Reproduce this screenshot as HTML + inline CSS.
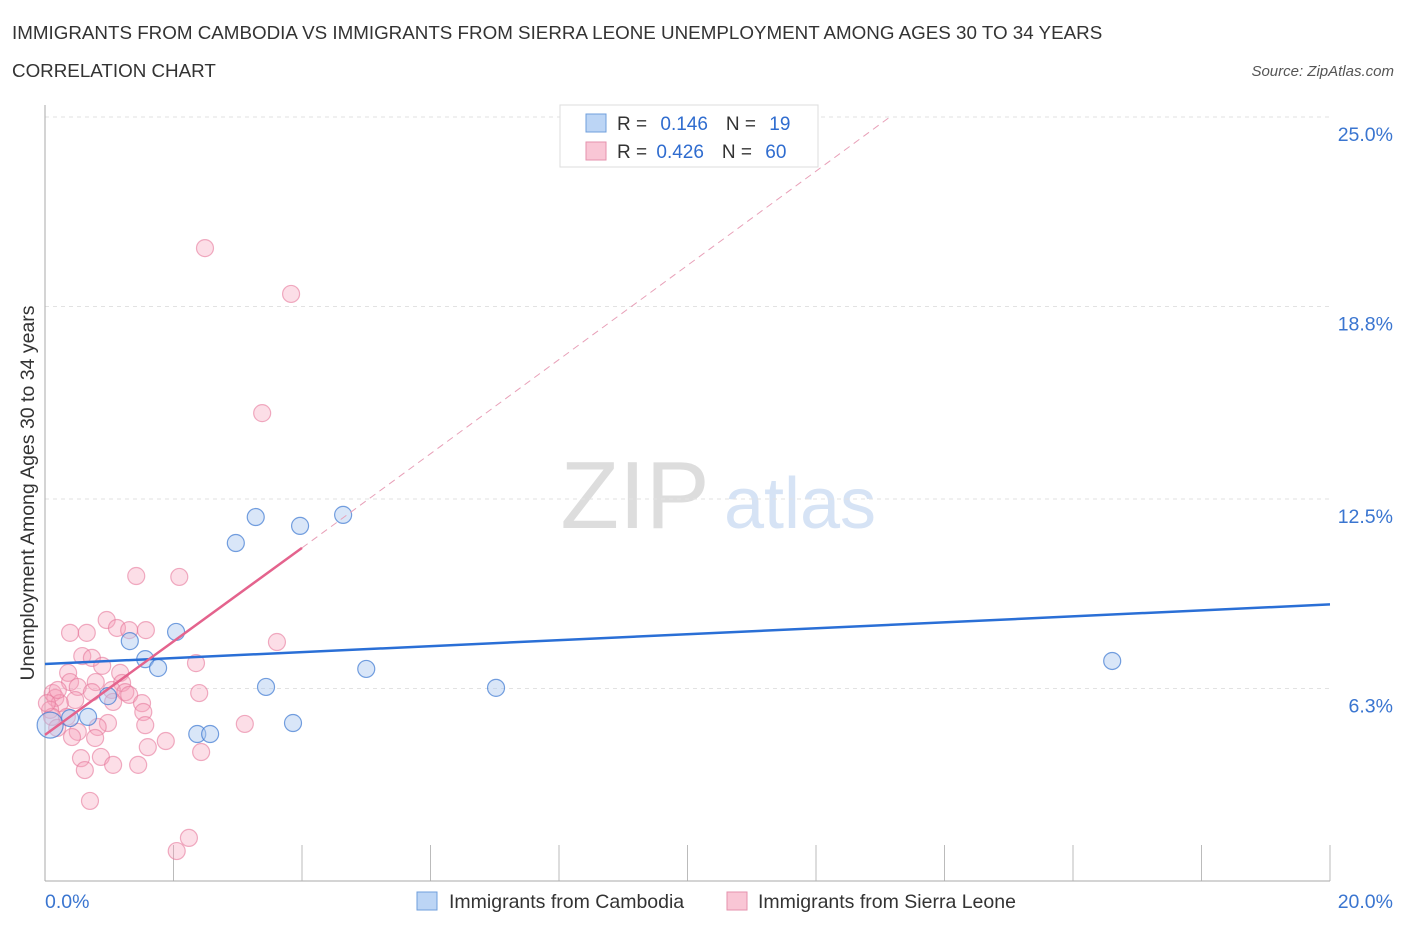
<!DOCTYPE html>
<html><head><meta charset="utf-8"><style>
body{margin:0;background:#fff;font-family:"Liberation Sans",sans-serif}
svg text{font-family:"Liberation Sans",sans-serif}
</style></head><body>
<svg id="c" width="1406" height="930" xmlns="http://www.w3.org/2000/svg">
<text x="12" y="39" font-size="18.8" fill="#333">IMMIGRANTS FROM CAMBODIA VS IMMIGRANTS FROM SIERRA LEONE UNEMPLOYMENT AMONG AGES 30 TO 34 YEARS</text>
<text x="12" y="77" font-size="18.8" fill="#333">CORRELATION CHART</text>
<text x="1394" y="76" font-size="15" fill="#555" font-style="italic" text-anchor="end">Source: ZipAtlas.com</text>
<text x="635" y="528" font-size="96" fill="#ddd" font-family="Liberation Serif" text-anchor="middle">ZIP</text>
<text x="800" y="528" font-size="72" fill="#d6e3f5" text-anchor="middle">atlas</text>
<text transform="translate(34,493) rotate(-90)" font-size="19.5" fill="#333" text-anchor="middle">Unemployment Among Ages 30 to 34 years</text>
<g id="grid"></g><g id="marks"></g>
<g>
<rect x="560" y="105" width="258" height="62" fill="#fff" stroke="#ddd"/>
<rect x="586" y="114" width="20" height="18" fill="#bcd5f5" stroke="#6f9fdc"/>
<rect x="586" y="142" width="20" height="18" fill="#f9c6d5" stroke="#e592ad"/>
<text x="617" y="130" font-size="19" fill="#333">R = <tspan fill="#2f6ccf" dx="8">0.146</tspan><tspan dx="18" fill="#333">N = </tspan><tspan fill="#2f6ccf" dx="8">19</tspan></text>
<text x="617" y="158" font-size="19" fill="#333">R = <tspan fill="#2f6ccf" dx="4">0.426</tspan><tspan dx="18" fill="#333">N = </tspan><tspan fill="#2f6ccf" dx="8">60</tspan></text>
</g>
<g>
<rect x="417" y="892" width="20" height="18" fill="#bcd5f5" stroke="#6f9fdc"/>
<text x="449" y="908" font-size="19.5" fill="#333">Immigrants from Cambodia</text>
<rect x="727" y="892" width="20" height="18" fill="#f9c6d5" stroke="#e592ad"/>
<text x="758" y="908" font-size="19.5" fill="#333">Immigrants from Sierra Leone</text>
</g>
</svg>
<script>
const yTicks=[25.0,18.8,12.5,6.3];
const yTickLabels=["25.0%","18.8%","12.5%","6.3%"];
const xTicks=[0,2,4,6,8,10,12,14,16,18,20];
const camX=[0.08,0.39,0.67,0.98,1.32,1.56,1.76,2.04,2.37,2.57,2.97,3.28,3.44,3.86,3.97,4.64,5.00,7.02,16.61];
const camY=[5.10,5.33,5.37,6.05,7.85,7.26,6.97,8.15,4.81,4.81,11.06,11.91,6.35,5.17,11.62,11.98,6.94,6.32,7.20];
const sleX=[2.49,3.83,3.38,1.42,2.09,0.96,0.39,0.65,1.12,1.31,1.57,3.61,0.58,0.73,0.89,2.35,0.36,1.17,0.39,0.79,0.51,0.73,1.20,1.04,1.25,2.40,0.12,0.16,1.31,0.47,0.23,1.06,1.51,1.53,0.08,0.34,0.98,1.56,0.51,0.82,0.42,0.78,3.11,1.88,1.60,0.56,0.87,0.62,1.06,1.45,2.43,0.70,2.24,2.05,0.11,0.19,0.03,0.20];
const sleY=[20.71,19.21,15.31,9.98,9.95,8.54,8.12,8.12,8.28,8.21,8.21,7.82,7.36,7.30,7.04,7.13,6.81,6.81,6.51,6.51,6.35,6.18,6.48,6.25,6.18,6.15,6.15,5.99,6.09,5.92,5.82,5.86,5.82,5.53,5.60,5.37,5.17,5.10,4.88,5.04,4.71,4.68,5.14,4.58,4.38,4.02,4.06,3.63,3.80,3.80,4.22,2.62,1.41,0.98,5.37,5.01,5.82,6.25];
const camLine=[[0,7.10],[20,9.05]];
const sleLine=[[0,4.78],[4,10.90]];
const sleDash=[[4,10.90],[13.15,25.0]];
const X=v=>45+v*64.25, Y=v=>881-v*30.56;
const NS="http://www.w3.org/2000/svg";
const grid=document.getElementById('grid'), marks=document.getElementById('marks');
function mk(tag,attrs,parent){const e=document.createElementNS(NS,tag);for(const k in attrs)e.setAttribute(k,attrs[k]);parent.appendChild(e);return e;}
yTicks.forEach((t,i)=>{
 const l=mk('line',{x1:45,x2:1330,y1:Y(t),y2:Y(t),stroke:'#e2e2e2','stroke-dasharray':'4 4'},grid);
 
 
 const tx=mk('text',{x:1393,y:Y(t)+24,'font-size':19.5,fill:'#3a75d0','text-anchor':'end'},grid);
 tx.textContent=yTickLabels[i];
 
 
});
xTicks.forEach(t=>{
 const l=mk('line',{x1:X(t),x2:X(t),y1:845,y2:881,stroke:'#bbb'},grid);
 
 
});
const ax=mk('line',{x1:45,x2:45,y1:105,y2:881,stroke:'#aaa'},grid);


const bx=mk('line',{x1:45,x2:1330,y1:881,y2:881,stroke:'#aaa'},grid);


const t0=mk('text',{x:45,y:908,'font-size':19.5,fill:'#3a75d0'},grid);t0.textContent='0.0%';


const t1=mk('text',{x:1393,y:908,'font-size':19.5,fill:'#3a75d0','text-anchor':'end'},grid);t1.textContent='20.0%';


sleX.forEach((v,i)=>{
 const c=mk('circle',{cx:X(v),cy:Y(sleY[i]),r:8.5,fill:'rgba(245,160,185,0.35)',stroke:'rgba(230,120,155,0.6)','stroke-width':1.2},marks);
 
 
});
camX.forEach((v,i)=>{
 const c=mk('circle',{cx:X(v),cy:Y(camY[i]),r:i===0?13:8.5,fill:'rgba(170,200,240,0.45)',stroke:'rgba(60,120,210,0.7)','stroke-width':1.2},marks);
 
 
});
const l1=mk('line',{x1:X(camLine[0][0]),y1:Y(camLine[0][1]),x2:X(camLine[1][0]),y2:Y(camLine[1][1]),stroke:'#2a6fd6','stroke-width':2.5},marks);


const l2=mk('line',{x1:X(sleLine[0][0]),y1:Y(sleLine[0][1]),x2:X(sleLine[1][0]),y2:Y(sleLine[1][1]),stroke:'#e4638d','stroke-width':2.5},marks);


const l3=mk('line',{x1:X(sleDash[0][0]),y1:Y(sleDash[0][1]),x2:X(sleDash[1][0]),y2:Y(sleDash[1][1]),stroke:'#e8a0b8','stroke-width':1,'stroke-dasharray':'7 5'},marks);


</script>
</body></html>
